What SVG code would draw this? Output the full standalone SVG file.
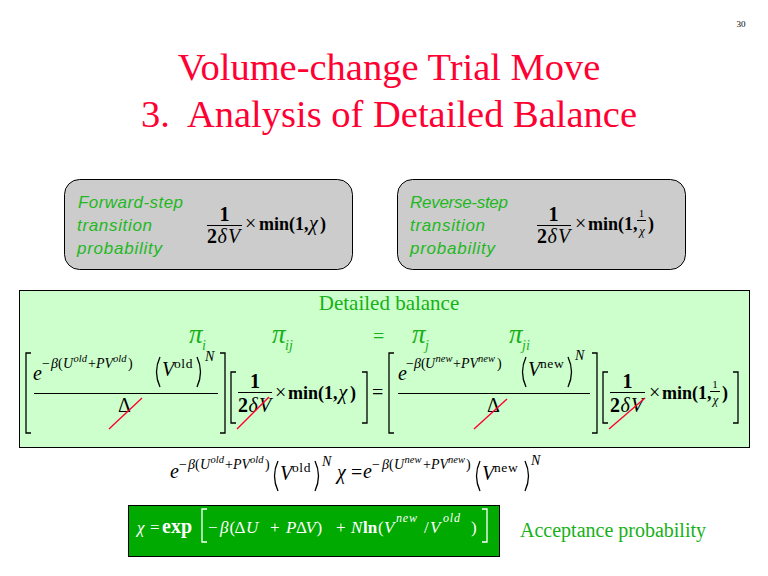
<svg xmlns="http://www.w3.org/2000/svg" width="768" height="576" viewBox="0 0 768 576">
<style>
text { font-family: "Liberation Serif", "Times New Roman", serif; }
.title { font-size: 38.5px; fill: #ff0033; text-anchor: middle; }
.lab { font-family: "Liberation Sans", Arial, sans-serif; font-style: italic; font-size: 17px; fill: #22b822; }
.m { font-size: 20px; fill: #000; }
.mn { font-size: 18px; font-weight: bold; }
.w { fill: #fff; }
.g { fill: #18b018; }
.i { font-style: italic; }
.b { font-weight: bold; }
.s { font-size: 14px; }
.ss { font-size: 10.5px; }
.up { font-size: 13.5px; letter-spacing: 0.6px; }
.n { font-size: 14px; font-style: italic; }
.f1 { font-size: 11px; }
.fx { font-size: 12.5px; }
.bt { font-size: 17px; }
.sup { font-size: 12px; letter-spacing: 0.8px; }
.br { fill: none; stroke: #000; stroke-width: 1.3; }
.brw { fill: none; stroke: #fff; stroke-width: 1.3; }
.bar { stroke: #000; stroke-width: 1; }
.slash { stroke: #ff0033; stroke-width: 1.4; }
.pi { font-size: 27px; font-style: italic; fill: #18b018; }
.pis { font-size: 14px; font-style: italic; fill: #18b018; }
</style>
<rect x="0" y="0" width="768" height="576" fill="#fff"/>

<g id="title">
  <text class="title" x="389" y="80">Volume-change Trial Move</text>
  <text class="title" x="389" y="127" xml:space="preserve">3.  Analysis of Detailed Balance</text>
</g>
<g id="page-number">
  <text x="741" y="27" font-size="9" text-anchor="middle" fill="#000">30</text>
</g>

<g id="connectors"></g>

<g id="box-forward">
  <rect x="64.5" y="179.5" width="288" height="90" rx="15" ry="15" fill="#cccccc" stroke="#000" stroke-width="1"/>
  <text class="lab" x="78" y="208" textLength="105">Forward-step</text>
  <text class="lab" x="77" y="231" textLength="75">transition</text>
  <text class="lab" x="77" y="254" textLength="85">probability</text>
  <text class="m b" x="224.5" y="221" text-anchor="middle">1</text>
  <line class="bar" x1="207" y1="225.5" x2="242" y2="225.5"/>
  <text class="m" x="207" y="243"><tspan class="b">2</tspan><tspan class="i" x="217.5">δ</tspan><tspan class="i" x="228">V</tspan></text>
  <text class="m" x="245" y="230">×</text>
  <text class="m mn" x="259" y="230">min(1,</text>
  <text class="m i" x="309" y="230">χ</text>
  <text class="m mn" x="320" y="230">)</text>
</g>

<g id="box-reverse">
  <rect x="397.5" y="179.5" width="288" height="90" rx="15" ry="15" fill="#cccccc" stroke="#000" stroke-width="1"/>
  <text class="lab" x="410" y="208" textLength="98">Reverse-step</text>
  <text class="lab" x="410" y="231" textLength="75">transition</text>
  <text class="lab" x="410" y="254" textLength="85">probability</text>
  <text class="m b" x="553.5" y="221" text-anchor="middle">1</text>
  <line class="bar" x1="537" y1="225.5" x2="571" y2="225.5"/>
  <text class="m" x="537" y="243"><tspan class="b">2</tspan><tspan class="i" x="547.5">δ</tspan><tspan class="i" x="558">V</tspan></text>
  <text class="m" x="575" y="230">×</text>
  <text class="m mn" x="588" y="230">min(1,</text>
  <text class="m f1" x="641.5" y="217" text-anchor="middle">1</text>
  <line class="bar" x1="637" y1="220.5" x2="646" y2="220.5"/>
  <text class="m i fx" x="642" y="235" text-anchor="middle">χ</text>
  <text class="m mn" x="648" y="230">)</text>
</g>

<g id="detailed-balance">
  <rect x="19.5" y="290.5" width="730" height="157" fill="#ccffcc" stroke="#000" stroke-width="1"/>
  <text x="389" y="310" font-size="21" fill="#18b018" text-anchor="middle">Detailed balance</text>
  <text class="pi" x="189" y="343">π</text><text class="pis" x="202" y="350">i</text>
  <text class="pi" x="272" y="343">π</text><text class="pis" x="285" y="350">ij</text>
  <text class="g" x="373" y="343" font-size="20">=</text>
  <text class="pi" x="412" y="343">π</text><text class="pis" x="425" y="350">j</text>
  <text class="pi" x="509" y="343">π</text><text class="pis" x="522" y="350">ji</text>

  <!-- left side -->
  <path class="br" d="M31,353 H26 V433 H31"/>
  <text class="m i" x="33" y="380">e</text>
  <text class="m s" x="42" y="368">−</text>
  <text class="m s i" x="51" y="368">β</text>
  <text class="m s" x="58" y="368">(</text>
  <text class="m s i" x="63" y="368">U</text>
  <text class="m ss i" x="73.5" y="362">old</text>
  <text class="m s" x="88" y="368">+</text>
  <text class="m s i" x="96" y="368">PV</text>
  <text class="m ss i" x="113" y="362">old</text>
  <text class="m s" x="128" y="368">)</text>
  <path class="br" d="M160,357 Q153,372 160,387"/>
  <text class="m i" x="162" y="376">V</text>
  <text class="m up" x="174" y="368">old</text>
  <path class="br" d="M197,357 Q204,372 197,387"/>
  <text class="m n" x="205" y="361">N</text>
  <line class="bar" x1="34" y1="393.5" x2="218" y2="393.5"/>
  <text class="m" x="118" y="412">Δ</text>
  <line class="slash" x1="109" y1="429" x2="142" y2="398"/>
  <path class="br" d="M220,353 H225 V433 H220"/>

  <path class="br" d="M236,372 H231 V423 H236"/>
  <text class="m b" x="255" y="388" text-anchor="middle">1</text>
  <line class="bar" x1="238" y1="392.5" x2="272" y2="392.5"/>
  <text class="m" x="238" y="412"><tspan class="b">2</tspan><tspan class="i" x="248.5">δ</tspan><tspan class="i" x="259">V</tspan></text>
  <line class="slash" x1="237" y1="429" x2="269" y2="397"/>
  <text class="m" x="275" y="399">×</text>
  <text class="m mn" x="288" y="399">min(1,</text>
  <text class="m i" x="338.5" y="399">χ</text>
  <text class="m mn" x="350" y="399">)</text>
  <path class="br" d="M362,372 H367 V423 H362"/>

  <text class="m" x="372" y="399">=</text>

  <!-- right side -->
  <path class="br" d="M394,353 H389 V433 H394"/>
  <text class="m i" x="398" y="380">e</text>
  <text class="m s" x="406" y="368">−</text>
  <text class="m s i" x="414" y="368">β</text>
  <text class="m s" x="421" y="368">(</text>
  <text class="m s i" x="425" y="368">U</text>
  <text class="m ss i" x="435.5" y="362">new</text>
  <text class="m s" x="453" y="368">+</text>
  <text class="m s i" x="461" y="368">PV</text>
  <text class="m ss i" x="478" y="362">new</text>
  <text class="m s" x="497" y="368">)</text>
  <path class="br" d="M526,357 Q519,372 526,387"/>
  <text class="m i" x="528" y="376">V</text>
  <text class="m up" x="540" y="368">new</text>
  <path class="br" d="M568,357 Q575,372 568,387"/>
  <text class="m n" x="575" y="360">N</text>
  <line class="bar" x1="398" y1="393.5" x2="590" y2="393.5"/>
  <text class="m" x="487" y="412">Δ</text>
  <line class="slash" x1="474" y1="429" x2="507" y2="399"/>
  <path class="br" d="M592,353 H597 V433 H592"/>

  <path class="br" d="M608,372 H603 V423 H608"/>
  <text class="m b" x="627.5" y="388" text-anchor="middle">1</text>
  <line class="bar" x1="610" y1="392.5" x2="645" y2="392.5"/>
  <text class="m" x="610" y="412"><tspan class="b">2</tspan><tspan class="i" x="620.5">δ</tspan><tspan class="i" x="631">V</tspan></text>
  <line class="slash" x1="609" y1="429" x2="645" y2="398"/>
  <text class="m" x="649" y="399">×</text>
  <text class="m mn" x="662" y="399">min(1,</text>
  <text class="m f1" x="715" y="388" text-anchor="middle">1</text>
  <line class="bar" x1="710" y1="391.5" x2="720" y2="391.5"/>
  <text class="m i fx" x="715.5" y="404" text-anchor="middle">χ</text>
  <text class="m mn" x="722" y="399">)</text>
  <path class="br" d="M733,372 H738 V423 H733"/>
</g>

<g id="equation">
  <text class="m i" x="170" y="478">e</text>
  <text class="m s" x="179" y="469">−</text>
  <text class="m s i" x="188" y="469">β</text>
  <text class="m s" x="195" y="469">(</text>
  <text class="m s i" x="200" y="469">U</text>
  <text class="m ss i" x="210.5" y="463">old</text>
  <text class="m s" x="225" y="469">+</text>
  <text class="m s i" x="233" y="469">PV</text>
  <text class="m ss i" x="250" y="463">old</text>
  <text class="m s" x="265" y="469">)</text>
  <path class="br" d="M278,461 Q271,476 278,491"/>
  <text class="m i" x="280" y="480">V</text>
  <text class="m up" x="292" y="472">old</text>
  <path class="br" d="M315,461 Q322,476 315,491"/>
  <text class="m n" x="322" y="466">N</text>
  <text class="m i" x="337" y="479">χ</text>
  <text class="m" x="351" y="479">=</text>
  <text class="m i" x="363" y="478">e</text>
  <text class="m s" x="372" y="469">−</text>
  <text class="m s i" x="382" y="469">β</text>
  <text class="m s" x="389" y="469">(</text>
  <text class="m s i" x="394" y="469">U</text>
  <text class="m ss i" x="404.5" y="463">new</text>
  <text class="m s" x="423" y="469">+</text>
  <text class="m s i" x="431" y="469">PV</text>
  <text class="m ss i" x="448" y="463">new</text>
  <text class="m s" x="466" y="469">)</text>
  <path class="br" d="M480,461 Q473,476 480,491"/>
  <text class="m i" x="482" y="480">V</text>
  <text class="m up" x="494" y="472">new</text>
  <path class="br" d="M525,461 Q532,476 525,491"/>
  <text class="m n" x="531" y="465">N</text>
</g>

<g id="acceptance">
  <rect x="128.5" y="505.5" width="371" height="51" fill="#00aa00" stroke="#000" stroke-width="1"/>
  <text class="m w i bt" x="137" y="533">χ</text>
  <text class="m w bt" x="150" y="533">=</text>
  <text class="m w b" x="162" y="533">exp</text>
  <path class="brw" d="M207,509 H202 V542 H207"/>
  <text class="m w bt" x="208" y="533">−</text>
  <text class="m w i bt" x="220" y="533">β</text>
  <text class="m w bt" x="229.5" y="533">(</text>
  <text class="m w bt" x="234.5" y="533">Δ</text>
  <text class="m w i bt" x="246" y="533">U</text>
  <text class="m w bt" x="270" y="533">+</text>
  <text class="m w i bt" x="286" y="533">P</text>
  <text class="m w bt" x="296" y="533">Δ</text>
  <text class="m w i bt" x="305.5" y="533">V</text>
  <text class="m w bt" x="316.5" y="533">)</text>
  <text class="m w bt" x="336" y="533">+</text>
  <text class="m w i bt" x="351" y="533">N</text>
  <text class="m w b bt" x="363" y="533">ln</text>
  <text class="m w bt" x="378" y="533">(</text>
  <text class="m w i bt" x="384" y="533">V</text>
  <text class="m w i sup" x="396" y="522">new</text>
  <text class="m w bt" x="424" y="533">/</text>
  <text class="m w i bt" x="430" y="533">V</text>
  <text class="m w i sup" x="443" y="522">old</text>
  <text class="m w bt" x="471" y="533">)</text>
  <path class="brw" d="M482,509 H487 V542 H482"/>
  <text x="520" y="537" font-size="20" fill="#18b018">Acceptance probability</text>
</g>
</svg>
